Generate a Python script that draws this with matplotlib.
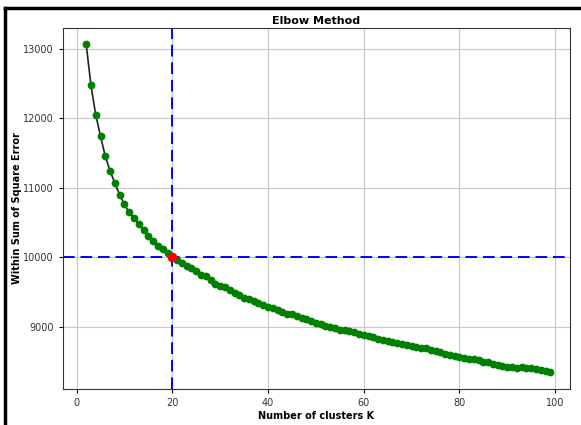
import matplotlib
matplotlib.use("Agg")
import matplotlib.pyplot as plt
from matplotlib.lines import Line2D

# Within-cluster sum of squares
k_values = list(range(2, 100))
wss = [13060, 12470, 12045, 11740, 11450, 11240, 11065, 10895, 10760, 10645,
       10560, 10475, 10390, 10310, 10235, 10170, 10115, 10060, 10010, 9960,
       9915, 9880, 9840, 9800, 9745, 9725, 9680, 9620, 9590, 9570,
       9530, 9490, 9460, 9420, 9400, 9370, 9345, 9315, 9290, 9270,
       9250, 9220, 9190, 9180, 9155, 9130, 9110, 9090, 9060, 9040,
       9020, 9005, 8985, 8960, 8950, 8935, 8920, 8900, 8880, 8870,
       8850, 8830, 8810, 8800, 8790, 8770, 8760, 8745, 8720, 8705,
       8700, 8690, 8670, 8650, 8635, 8615, 8600, 8585, 8570, 8560,
       8545, 8535, 8520, 8500, 8490, 8470, 8455, 8440, 8430, 8425,
       8415, 8420, 8410, 8405, 8390, 8385, 8370, 8345]
best_k = 20
best_wss = 10010
threshold = 10000

fig = plt.figure(figsize=(5.81, 4.25), dpi=100)
ax = fig.add_axes([0.108, 0.085, 0.873, 0.849])

ax.plot(k_values, wss, color="#222222", linewidth=1.2, zorder=2)
ax.plot(k_values, wss, "o", color="green", markersize=4.6, zorder=3)
ax.plot(best_k, best_wss, "o", color="red", markersize=6, zorder=4)
ax.axvline(best_k, color="blue", linestyle=(0, (6, 3)), linewidth=1.4, zorder=1)
ax.axhline(threshold, color="blue", linestyle=(0, (6, 3)), linewidth=1.4, zorder=1)

ax.set_xlim(-2.9, 103.1)
ax.set_title("Elbow Method", fontsize=8, fontweight="bold", pad=3)
ax.set_xlabel("Number of clusters K", fontsize=7, fontweight="bold", labelpad=2)
ax.set_ylabel("Within Sum of Square Error", fontsize=7, fontweight="bold")
ax.yaxis.set_label_coords(-0.08, 0.5)
ax.tick_params(labelsize=7, length=3, labelcolor="#333333")
ax.grid(True, color="#c8c8c8", linewidth=0.8)
ax.set_axisbelow(True)
for s in ax.spines.values():
    s.set_color("#333333")
    s.set_linewidth(0.8)

# frame around the screenshot (left and top edges)
fig.add_artist(Line2D([0.009, 1.0], [0.981, 0.981], color="black", linewidth=2.5,
                      transform=fig.transFigure))
fig.add_artist(Line2D([0.009, 0.009], [0.0, 0.981], color="black", linewidth=2.5,
                      transform=fig.transFigure))

fig.savefig("out.png", dpi=100)
